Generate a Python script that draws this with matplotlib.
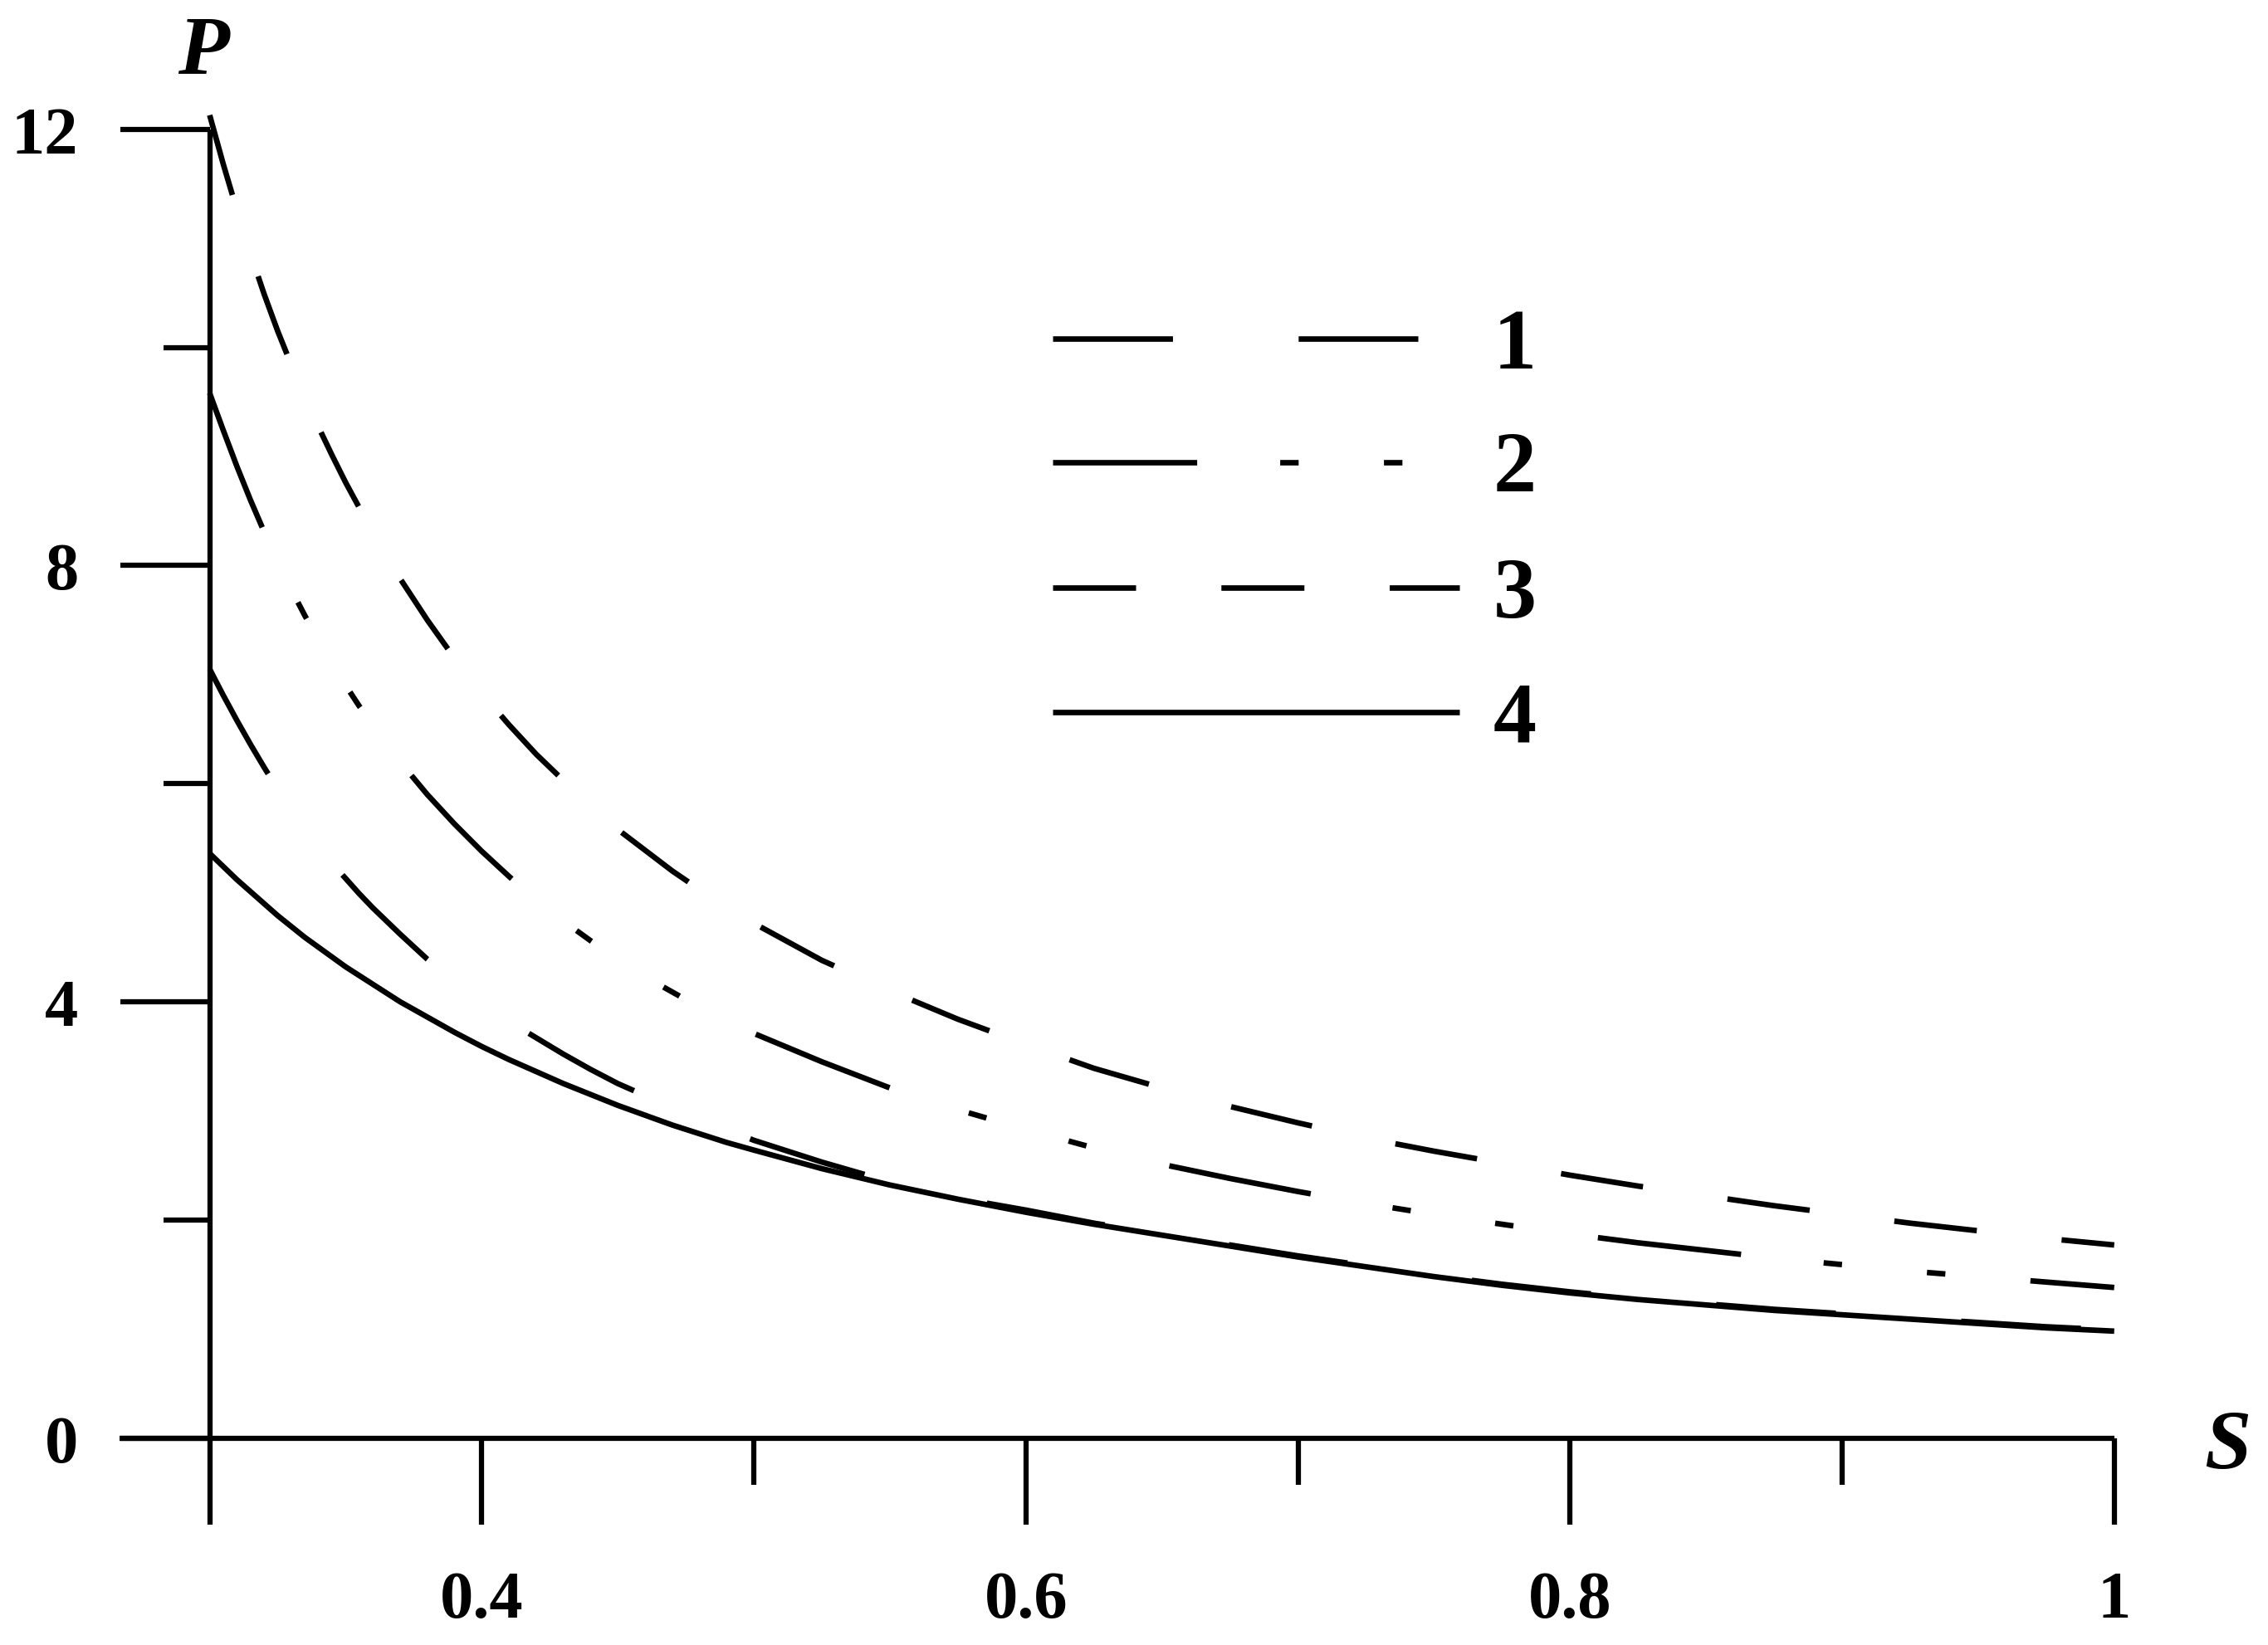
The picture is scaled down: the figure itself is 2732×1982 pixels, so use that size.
import matplotlib
matplotlib.use("Agg")
import matplotlib.pyplot as plt
from matplotlib.lines import Line2D

plt.rcParams["font.family"] = ["Liberation Serif", "DejaVu Serif"]
plt.rcParams["lines.scale_dashes"] = False

# values
s = [0.30, 0.305, 0.31, 0.315, 0.32, 0.325, 0.33, 0.335, 0.34, 0.345, 0.35,
     0.355, 0.36, 0.37, 0.38, 0.39, 0.40, 0.41, 0.42, 0.43, 0.44, 0.45,
     0.46, 0.47, 0.48, 0.49, 0.50,
     0.525, 0.55, 0.575, 0.60, 0.625, 0.65, 0.675, 0.70, 0.725, 0.75,
     0.775, 0.80, 0.825, 0.85, 0.875, 0.90, 0.925, 0.95, 0.975, 1.00]

p1 = [7.05, 6.81, 6.58, 6.36, 6.15, 5.95, 5.77, 5.59, 5.43, 5.27, 5.13,
      4.99, 4.86, 4.62, 4.39, 4.19, 4.00, 3.82, 3.67, 3.52, 3.38, 3.25,
      3.14, 3.03, 2.92, 2.83, 2.73,
      2.53, 2.35, 2.20, 2.09, 1.97, 1.87, 1.77, 1.67, 1.58, 1.49,
      1.41, 1.34, 1.28, 1.23, 1.18, 1.14, 1.10, 1.06, 1.02, 0.99]

p2 = [9.58, 9.24, 8.91, 8.60, 8.31, 8.04, 7.78, 7.54, 7.32, 7.11, 6.90,
      6.71, 6.54, 6.20, 5.90, 5.63, 5.38, 5.15, 4.93, 4.74, 4.56, 4.39,
      4.23, 4.09, 3.95, 3.82, 3.71,
      3.45, 3.21, 3.01, 2.83, 2.66, 2.51, 2.38, 2.26, 2.15, 2.05,
      1.96, 1.87, 1.79, 1.72, 1.65, 1.59, 1.53, 1.48, 1.43, 1.38]

p3 = [12.13, 11.68, 11.26, 10.86, 10.49, 10.15, 9.84, 9.55, 9.27, 9.01, 8.76,
      8.53, 8.30, 7.88, 7.50, 7.15, 6.83, 6.54, 6.27, 6.03, 5.80, 5.58,
      5.39, 5.20, 5.03, 4.87, 4.72,
      4.38, 4.10, 3.84, 3.61, 3.39, 3.21, 3.04, 2.89, 2.75, 2.63,
      2.52, 2.41, 2.31, 2.22, 2.13, 2.05, 1.97, 1.90, 1.83, 1.77]

p4 = [5.36, 5.24, 5.12, 5.01, 4.90, 4.79, 4.69, 4.59, 4.50, 4.41, 4.32,
      4.24, 4.16, 4.00, 3.86, 3.72, 3.59, 3.47, 3.36, 3.25, 3.15, 3.05,
      2.96, 2.87, 2.79, 2.71, 2.64,
      2.47, 2.32, 2.19, 2.07, 1.96, 1.86, 1.76, 1.66, 1.57, 1.48,
      1.40, 1.33, 1.27, 1.22, 1.17, 1.13, 1.09, 1.05, 1.01, 0.98]

curve_labels = ["1", "2", "3", "4"]
x_major = [0.3, 0.4, 0.6, 0.8, 1.0]
x_major_labels = ["", "0.4", "0.6", "0.8", "1"]
x_minor = [0.5, 0.7, 0.9]
y_major = [0, 4, 8, 12]
y_major_labels = ["0", "4", "8", "12"]
y_minor = [2, 6, 10]

W, H = 2732, 1983
fig = plt.figure(figsize=(W / 100, H / 100), dpi=100)


def fx(px):
    return px / W


def fy(py):
    return 1 - py / H


ax = fig.add_axes([fx(88.7), 118 / H, (2612.3 - 88.7) / W, (1891.9 - 118) / H])
ax.set_xlim(0.25, 1.02)
ax.set_ylim(-1.0, 12.5)
ax.patch.set_alpha(0)

styles = [
    dict(dashes=(104, 109)),
    dict(dashes=(125, 72, 16, 74, 16, 74)),
    dict(dashes=(72, 74)),
    dict(linestyle="-"),
]
lw = 4.8
for p, st in zip([p1, p2, p3, p4], styles):
    ax.plot(s, p, color="black", lw=lw, dash_capstyle="butt",
            solid_capstyle="butt", clip_on=False, **st)

# axes drawn as crossing lines
for side in ["top", "right"]:
    ax.spines[side].set_visible(False)
ax.spines["left"].set_position(("data", 0.3))
ax.spines["left"].set_bounds(0, 12)
ax.spines["bottom"].set_position(("data", 0))
ax.spines["bottom"].set_bounds(0.267, 1.0)
for side in ["left", "bottom"]:
    ax.spines[side].set_linewidth(4.5)
    ax.spines[side].set_capstyle("butt")

ax.set_xticks(x_major)
ax.set_xticklabels(x_major_labels)
ax.set_xticks(x_minor, minor=True)
ax.set_yticks(y_major)
ax.set_yticklabels(y_major_labels)
ax.set_yticks(y_minor, minor=True)

ax.tick_params(axis="x", which="major", direction="out", length=75, width=4.5, pad=40)
ax.tick_params(axis="x", which="minor", direction="out", length=40, width=4.5)
ax.tick_params(axis="y", which="major", direction="out", length=78, width=4.5, pad=36)
ax.tick_params(axis="y", which="minor", direction="out", length=40, width=4.5)
for lab in ax.get_xticklabels() + ax.get_yticklabels():
    lab.set_fontsize(58)
    lab.set_fontweight("bold")

# axis names
fig.text(fx(245), fy(89), "P", fontsize=73, fontweight="bold", style="italic",
         ha="center", va="baseline")
fig.text(fx(2683), fy(1770), "S", fontsize=73, fontweight="bold", style="italic",
         ha="center", va="baseline")

# legend drawn by hand to match the reference layout
rows = [409, 557.5, 709, 859]
lengths = [440, 430, 490, 490]
for lab, st, y, ln in zip(curve_labels, styles, rows, lengths):
    fig.add_artist(Line2D([fx(1268), fx(1268 + ln)], [fy(y), fy(y)],
                          transform=fig.transFigure, color="black", lw=lw,
                          dash_capstyle="butt", solid_capstyle="butt", **st))
    fig.text(fx(1825), fy(y + 35), lab, fontsize=75, fontweight="bold",
             ha="center", va="baseline")

fig.savefig("out.png", dpi=100)
